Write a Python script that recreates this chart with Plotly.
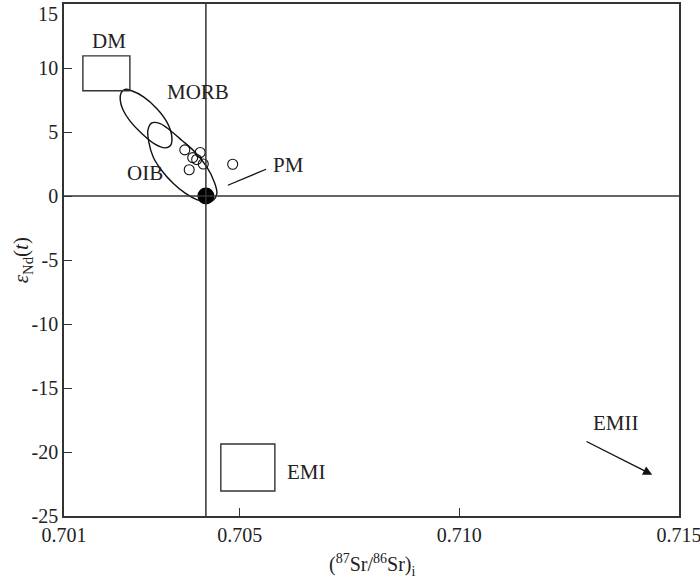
import plotly.graph_objects as go

# ---- data ----
sample_sr = [0.70375, 0.70410, 0.70393, 0.70402, 0.70417, 0.70385, 0.70484]
sample_end = [3.6, 3.4, 3.0, 2.85, 2.5, 2.05, 2.48]

pm_sr = [0.70423]
pm_end = [0.0]

morb_sr = [0.70239, 0.70254, 0.70281, 0.70311, 0.70334, 0.70345, 0.70343, 0.70330,
           0.70307, 0.70277, 0.70250, 0.70234, 0.70228, 0.70230, 0.70239]
morb_end = [8.33, 8.22, 7.75, 6.84, 5.79, 4.75, 3.97, 3.76,
            4.05, 4.88, 5.87, 6.76, 7.49, 8.06, 8.33]

oib_sr = [0.70300, 0.70319, 0.70341, 0.70368, 0.70398, 0.70425, 0.70442, 0.70448,
          0.70439, 0.70425, 0.70402, 0.70375, 0.70349, 0.70322, 0.70303, 0.70293,
          0.70291, 0.70300]
oib_end = [5.71, 5.66, 5.14, 4.36, 3.44, 2.27, 1.10, 0.19,
           -0.34, -0.47, -0.28, 0.24, 0.97, 2.01, 3.05, 4.23,
           5.14, 5.71]

dm_box_sr = [0.70143, 0.70250]
dm_box_end = [8.22, 10.95]
emi_box_sr = [0.70457, 0.70580]
emi_box_end = [-23.05, -19.37]

bulk_earth_sr = 0.70423
bulk_earth_end = 0.0

pm_leader_sr = [0.70473, 0.70560]
pm_leader_end = [0.84, 2.09]

emii_arrow_sr = [0.71286, 0.71439]
emii_arrow_end = [-19.12, -21.78]

labels = ["DM", "MORB", "OIB", "PM", "EMI", "EMII"]
label_sr = [0.70202, 0.70405, 0.70284, 0.70610, 0.70651, 0.71357]
label_end = [12.13, 8.11, 1.78, 2.4, -21.6, -17.76]

x_ticks = [0.701, 0.705, 0.710, 0.715]
x_tick_text = ["0.701", "0.705", "0.710", "0.715"]
y_ticks = [-25, -20, -15, -10, -5, 0, 5, 10, 15]
y_tick_text = ["-25", "-20", "-15", "-10", "-5", "0", "5", "10", "15"]

FONT = "Liberation Serif"
INK = "#222222"
LINE = "#333333"

fig = go.Figure()

# field outlines
for xs, ys in [(morb_sr, morb_end), (oib_sr, oib_end)]:
    fig.add_trace(go.Scatter(x=xs, y=ys, mode="lines",
                             line=dict(color="#111111", width=1.4, shape="spline", smoothing=1.0),
                             hoverinfo="skip", showlegend=False))

# boxes
for bx, by in [(dm_box_sr, dm_box_end), (emi_box_sr, emi_box_end)]:
    fig.add_shape(type="rect", xref="x", yref="y", x0=bx[0], x1=bx[1], y0=by[0], y1=by[1],
                  line=dict(color=LINE, width=1.4))

# bulk earth cross lines
fig.add_shape(type="line", xref="x", yref="paper", x0=bulk_earth_sr, x1=bulk_earth_sr, y0=0, y1=1,
              line=dict(color=LINE, width=1.5))
fig.add_shape(type="line", xref="paper", yref="y", x0=0, x1=1, y0=bulk_earth_end, y1=bulk_earth_end,
              line=dict(color=LINE, width=1.5))

# PM leader line
fig.add_shape(type="line", xref="x", yref="y", x0=pm_leader_sr[0], x1=pm_leader_sr[1],
              y0=pm_leader_end[0], y1=pm_leader_end[1], line=dict(color="#111111", width=1.3))

# samples
fig.add_trace(go.Scatter(x=sample_sr, y=sample_end, mode="markers",
                         marker=dict(symbol="circle-open", size=10, color="#111111", line=dict(width=1.1)),
                         showlegend=False))
# PM point
fig.add_trace(go.Scatter(x=pm_sr, y=pm_end, mode="markers",
                         marker=dict(symbol="circle", size=17, color="#000000"),
                         showlegend=False))

# labels
for t, lx, ly in zip(labels, label_sr, label_end):
    fig.add_annotation(x=lx, y=ly, xref="x", yref="y", text=t, showarrow=False,
                       xanchor="center", yanchor="middle",
                       font=dict(family=FONT, size=21, color=INK))

# EMII arrow
fig.add_annotation(x=emii_arrow_sr[1], y=emii_arrow_end[1], ax=emii_arrow_sr[0], ay=emii_arrow_end[0],
                   xref="x", yref="y", axref="x", ayref="y", text="", showarrow=True,
                   arrowhead=2, arrowsize=1.3, arrowwidth=1.4, arrowcolor="#111111", standoff=0)

# top y tick label sits slightly below its tick in the reference (kept inside the page)
top_label = y_tick_text[-1]
shown_y_text = y_tick_text[:-1] + [""]
fig.add_annotation(xref="paper", yref="y", x=0, y=y_ticks[-1], text=top_label, showarrow=False,
                   xanchor="right", yanchor="top", xshift=-4, yshift=3,
                   font=dict(family=FONT, size=20, color=INK))

# axis titles
fig.add_annotation(xref="paper", yref="paper", x=-0.068, y=0.5, textangle=-90,
                   xanchor="center", yanchor="middle",
                   text="<i>ε</i><sub>Nd</sub>(<i>t</i>)", showarrow=False,
                   font=dict(family=FONT, size=21, color=INK))
fig.add_annotation(xref="paper", yref="paper", x=0.5, y=-0.096,
                   xanchor="center", yanchor="middle",
                   text="(<sup>87</sup>Sr/<sup>86</sup>Sr)<sub>i</sub>", showarrow=False,
                   font=dict(family=FONT, size=20, color=INK))

fig.update_xaxes(range=[0.701, 0.715], tickvals=x_ticks, ticktext=x_tick_text,
                 showgrid=False, zeroline=False, showline=True, mirror=True, automargin=False,
                 ticklabeloverflow="allow",
                 linecolor=LINE, linewidth=1.5, ticks="inside", ticklen=8, tickwidth=1.3,
                 tickcolor=LINE, tickfont=dict(family=FONT, size=20, color=INK))
fig.update_yaxes(range=[-25, 15], tickvals=y_ticks, ticktext=shown_y_text,
                 showgrid=False, zeroline=False, showline=True, mirror=True, automargin=False,
                 ticklabeloverflow="allow",
                 linecolor=LINE, linewidth=1.5, ticks="inside", ticklen=8, tickwidth=1.3,
                 tickcolor=LINE, tickfont=dict(family=FONT, size=20, color=INK))

fig.update_layout(width=700, height=578, margin=dict(l=64, r=21, t=4, b=62),
                  plot_bgcolor="white", paper_bgcolor="white", showlegend=False)

fig.write_html("out.html", config={"displayModeBar": False},
               post_script="document.body.style.margin='0';")
